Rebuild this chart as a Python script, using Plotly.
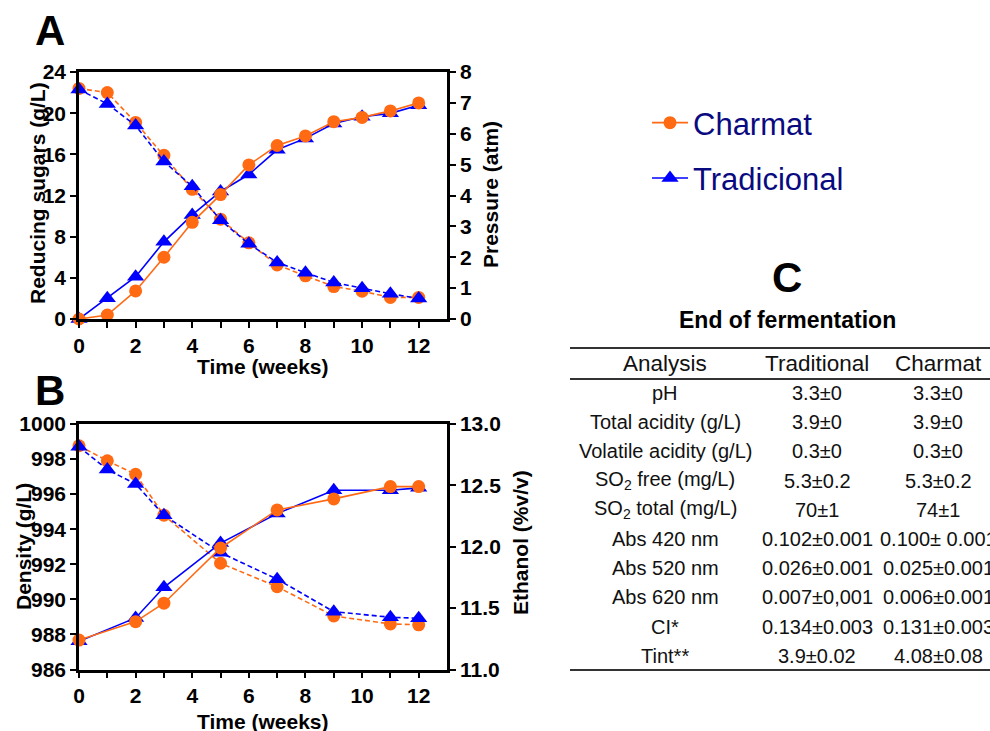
import plotly.graph_objects as go

# ---------------- data ----------------
weeks_a = [0, 1, 2, 3, 4, 5, 6, 7, 8, 9, 10, 11, 12]
sugars_charmat = [22.4, 22.0, 19.1, 15.9, 12.6, 9.7, 7.4, 5.25, 4.2, 3.15, 2.7, 2.1, 2.1]
sugars_trad = [22.3, 20.9, 18.8, 15.3, 12.9, 9.6, 7.3, 5.5, 4.5, 3.55, 3.0, 2.45, 2.0]
pressure_charmat = [0.0, 0.13, 0.91, 2.0, 3.13, 4.03, 4.99, 5.62, 5.93, 6.39, 6.53, 6.74, 7.0]
pressure_trad = [0.0, 0.67, 1.37, 2.5, 3.37, 4.13, 4.68, 5.48, 5.85, 6.33, 6.55, 6.66, 6.92]

weeks_density = [0, 1, 2, 3, 5, 7, 9, 11, 12]
density_charmat = [998.76, 997.9, 997.13, 994.8, 992.06, 990.72, 989.05, 988.6, 988.55]
density_trad = [998.7, 997.4, 996.58, 994.8, 992.66, 991.15, 989.3, 988.98, 988.92]

weeks_ethanol = [0, 2, 3, 5, 7, 9, 11, 12]
ethanol_charmat = [11.24, 11.39, 11.54, 11.99, 12.30, 12.39, 12.49, 12.49]
ethanol_trad = [11.23, 11.42, 11.67, 12.03, 12.27, 12.46, 12.46, 12.48]

x_ticks = list(range(0, 13))
x_ticktext = [str(v) if v % 2 == 0 else "" for v in x_ticks]

table_header = ["Analysis", "Traditional", "Charmat"]
table_analysis = ["pH", "Total acidity (g/L)", "Volatile acidity (g/L)",
                  "SO<sub>2</sub> free (mg/L)", "SO<sub>2</sub> total (mg/L)",
                  "Abs 420 nm", "Abs 520 nm", "Abs 620 nm", "CI*", "Tint**"]
table_traditional = ["3.3±0", "3.9±0", "0.3±0", "5.3±0.2", "70±1", "0.102±0.001",
                     "0.026±0.001", "0.007±0,001", "0.134±0.003", "3.9±0.02"]
table_charmat = ["3.3±0", "3.9±0", "0.3±0", "5.3±0.2", "74±1", "0.100± 0.001",
                 "0.025±0.001", "0.006±0.001", "0.131±0.003", "4.08±0.08"]

# ---------------- style ----------------
W, H = 990, 731
ORANGE = "#FF6A13"
BLUE = "#0000FF"
FONT = "Liberation Sans, Arial, sans-serif"
LW = 1.6
DASH = "5px,3px"


def px(x):
    return x / W


def py(y):
    return 1 - y / H


fig = go.Figure()


def add(x, y, color, symbol, dash, xa, ya, name=None, legend=False, rank=1, size=13):
    fig.add_trace(go.Scatter(
        x=x, y=y, mode="lines+markers", xaxis=xa, yaxis=ya,
        line=dict(color=color, width=LW, dash=dash),
        marker=dict(color=color, symbol=symbol, size=size),
        cliponaxis=False, name=name, showlegend=legend,
        legendgroup=name, legendrank=rank))


# Panel A (dashed = reducing sugars left axis, solid = pressure right axis)
add(weeks_a, sugars_charmat, ORANGE, "circle", DASH, "x", "y")
add(weeks_a, sugars_trad, BLUE, "triangle-up", DASH, "x", "y", size=15)
add(weeks_a, pressure_trad, BLUE, "triangle-up", "solid", "x", "y2", name="Tradicional", legend=True, rank=2, size=15)
add(weeks_a, pressure_charmat, ORANGE, "circle", "solid", "x", "y2", name="Charmat", legend=True, rank=1)

# Panel B (dashed = density left axis, solid = ethanol right axis)
add(weeks_density, density_charmat, ORANGE, "circle", DASH, "x2", "y3")
add(weeks_density, density_trad, BLUE, "triangle-up", DASH, "x2", "y3", size=15)
add(weeks_ethanol, ethanol_trad, BLUE, "triangle-up", "solid", "x2", "y4", size=15)
add(weeks_ethanol, ethanol_charmat, ORANGE, "circle", "solid", "x2", "y4")

tickfont = dict(family=FONT, size=21, color="black", weight="bold")
axis_common = dict(showline=True, linecolor="black", linewidth=2.5, ticks="outside",
                   ticklen=6, tickwidth=2, tickcolor="black", showgrid=False,
                   zeroline=False, tickfont=tickfont, automargin=False)

xdom = [px(79), px(447)]
ydomA = [py(319), py(72)]
ydomB = [py(669.5), py(424)]

fig.update_layout(
    template="none",
    font=dict(family=FONT, color="black"),
    width=W, height=H, margin=dict(l=0, r=0, t=0, b=0, pad=0, autoexpand=False),
    paper_bgcolor="white", plot_bgcolor="white",
    xaxis=dict(domain=xdom, anchor="y", range=[0, 13], tickvals=x_ticks,
               ticktext=x_ticktext, mirror=True, **axis_common),
    yaxis=dict(domain=ydomA, anchor="x", range=[0, 24], dtick=4, **axis_common),
    yaxis2=dict(overlaying="y", side="right", anchor="x", range=[0, 8], dtick=1,
                **axis_common),
    xaxis2=dict(domain=xdom, anchor="y3", range=[0, 13], tickvals=x_ticks,
                ticktext=x_ticktext, mirror=True, **axis_common),
    yaxis3=dict(domain=ydomB, anchor="x2", range=[986, 1000], dtick=2, **axis_common),
    yaxis4=dict(overlaying="y3", side="right", anchor="x2", range=[11, 13], dtick=0.5,
                tickformat=".1f", **axis_common),
    legend=dict(x=px(647), y=py(96), xanchor="left", yanchor="top",
                font=dict(family=FONT, size=31, color="#0a0a80"),
                bgcolor="rgba(0,0,0,0)", borderwidth=0, traceorder="grouped",
                tracegroupgap=12, itemwidth=36),
)

ann = []


def text(x, y, t, size, bold=False, angle=0, color="black", xanchor="center"):
    ann.append(dict(x=px(x), y=py(y), xref="paper", yref="paper", text=t,
                    showarrow=False, textangle=angle, xanchor=xanchor, yanchor="middle",
                    font=dict(family=FONT, size=size, color=color,
                              weight="bold" if bold else "normal")))


# panel letters
text(50, 30, "A", 42, bold=True)
text(50, 390, "B", 42, bold=True)
text(787, 277, "C", 42, bold=True)
text(787, 320, "End of fermentation", 23, bold=True)

# axis titles
text(37, 193, "Reducing sugars (g/L)", 21, bold=True, angle=-90)
text(490, 195, "Pressure (atm)", 21, bold=True, angle=-90)
text(263, 366, "Time (weeks)", 21, bold=True)
text(23, 547, "Density (g/L)", 21, bold=True, angle=-90)
text(520, 543, "Ethanol (%v/v)", 21, bold=True, angle=-90)
text(263, 721, "Time (weeks)", 21, bold=True)

# table
col_x = [665, 817, 938]
for cx, h in zip(col_x, table_header):
    text(cx, 363, h, 22.5, color="#111111")
row_y0, row_dy = 393, 29.2
for i, (a, t, c) in enumerate(zip(table_analysis, table_traditional, table_charmat)):
    yy = row_y0 + i * row_dy
    text(col_x[0], yy, a, 20, color="#111111")
    text(col_x[1], yy, t, 20, color="#111111")
    text(col_x[2], yy, c, 20, color="#111111")

shapes = []
for yy in (348, 379, 670):
    shapes.append(dict(type="line", xref="paper", yref="paper", x0=px(570), x1=1.0,
                       y0=py(yy), y1=py(yy), line=dict(color="#333333", width=2)))

fig.update_layout(annotations=ann, shapes=shapes)

fig.write_html("out.html", config={"displayModeBar": False},
               post_script="document.body.style.margin='0';document.body.style.overflow='hidden';")
